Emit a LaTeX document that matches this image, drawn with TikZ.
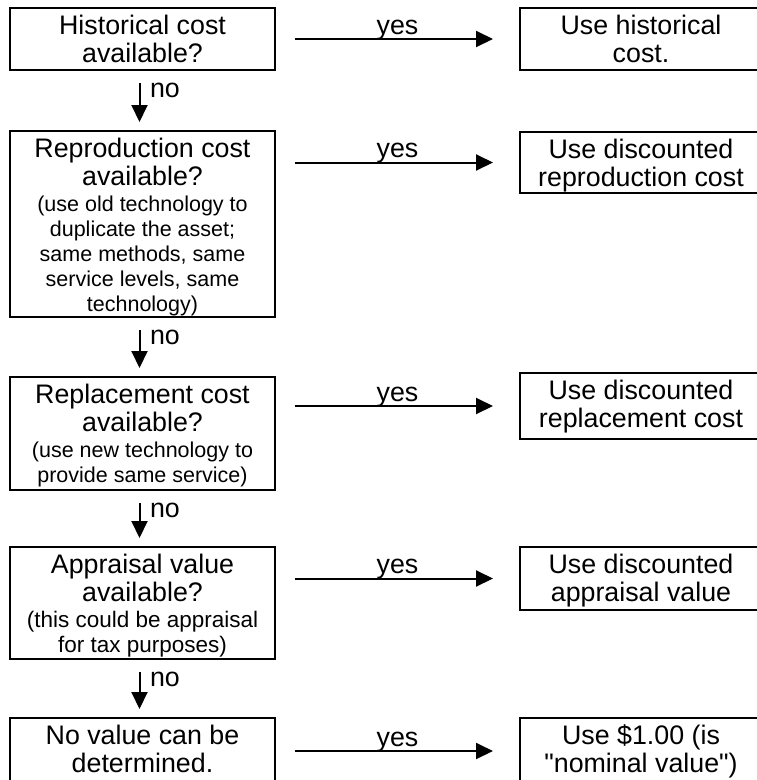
\documentclass[tikz,border=0pt]{standalone}
\usepackage{fontspec}
\setmainfont{Liberation Sans}[Ligatures=TeXOff]
\usetikzlibrary{arrows.meta}
\newcommand\Lfont{\fontsize{26.8pt}{27.5pt}\selectfont}
\newcommand\Sfont{\fontsize{21.5pt}{25pt}\selectfont}
\newcommand\Tfont{\fontsize{22.5pt}{25pt}\selectfont}
\newcommand\bx[3]{\parbox[c][#1][t]{#2}{\centering\Lfont\rule{0pt}{26.5pt}#3\par}}
\begin{document}
\begin{tikzpicture}[x=1pt,y=-1pt,
  box/.style={draw, line width=2pt, inner sep=0pt, anchor=north west},
  arr/.style={line width=2pt, -{Triangle[length=17pt,width=16pt]}},
  yesarr/.style={arr, shorten <=19pt, shorten >=26pt},
  noarr/.style={arr, shorten <=12pt, shorten >=8pt},
  lab/.style={inner sep=0pt, font=\Lfont}]
\useasboundingbox (0,0) rectangle (757,780);
\clip (0,0) rectangle (757,780);
% left column
\node[box] (b1) at (9,7) {\bx{62pt}{265pt}{Historical cost\\available?}};
\node[box] (b2) at (9,130) {\bx{186pt}{265pt}{Reproduction cost\\available?\par\Sfont\vspace{1pt}(use old technology to\\duplicate the asset;\\same methods, same\\service levels, same\\technology)}};
\node[box] (b3) at (9,376) {\bx{113pt}{265pt}{Replacement cost\\available?\par\Sfont\vspace{1pt}(use new technology to\\provide same service)}};
\node[box] (b4) at (9,546) {\bx{112pt}{265pt}{Appraisal value\\available?\par\Tfont\vspace{1pt}(this could be appraisal\\for tax purposes)}};
\node[box] (b5) at (9,717) {\bx{66pt}{265pt}{No value can be\\determined.}};
% right column
\node[box] (r1) at (519,7) {\bx{62pt}{242pt}{Use historical\\cost.}};
\node[box] (r2) at (519,131) {\bx{61pt}{242pt}{Use discounted\\reproduction cost}};
\node[box] (r3) at (519,372) {\bx{66pt}{242pt}{Use discounted\\replacement cost}};
\node[box] (r4) at (519,546) {\bx{63pt}{242pt}{Use discounted\\appraisal value}};
\node[box] (r5) at (519,717) {\bx{66pt}{242pt}{Use \$1.00 (is\\"nominal value")}};
% no arrows
\draw[noarr] ([xshift=-3pt]b1.south) -- ([xshift=-3pt]b2.north)
  node[lab, pos=0, anchor=base west, xshift=9.5pt, yshift=-26pt] {no};
\draw[noarr] ([xshift=-3pt]b2.south) -- ([xshift=-3pt]b3.north)
  node[lab, pos=0, anchor=base west, xshift=9.5pt, yshift=-26pt] {no};
\draw[noarr] ([xshift=-3pt]b3.south) -- ([xshift=-3pt]b4.north)
  node[lab, pos=0, anchor=base west, xshift=9.5pt, yshift=-26pt] {no};
\draw[noarr] ([xshift=-3pt]b4.south) -- ([xshift=-3pt]b5.north)
  node[lab, pos=0, anchor=base west, xshift=9.5pt, yshift=-26pt] {no};
% yes arrows
\draw[yesarr] (b1.east |- r1.west) -- (r1.west) node[lab, midway, anchor=base, yshift=5pt] {yes};
\draw[yesarr] (b2.east |- r2.west) -- (r2.west) node[lab, midway, anchor=base, yshift=5pt] {yes};
\draw[yesarr] (b3.east |- r3.west) -- (r3.west) node[lab, midway, anchor=base, yshift=5pt] {yes};
\draw[yesarr] (b4.east |- r4.west) -- (r4.west) node[lab, midway, anchor=base, yshift=5pt] {yes};
\draw[yesarr] (b5.east |- r5.west) -- (r5.west) node[lab, midway, anchor=base, yshift=5pt] {yes};
\end{tikzpicture}
\end{document}
